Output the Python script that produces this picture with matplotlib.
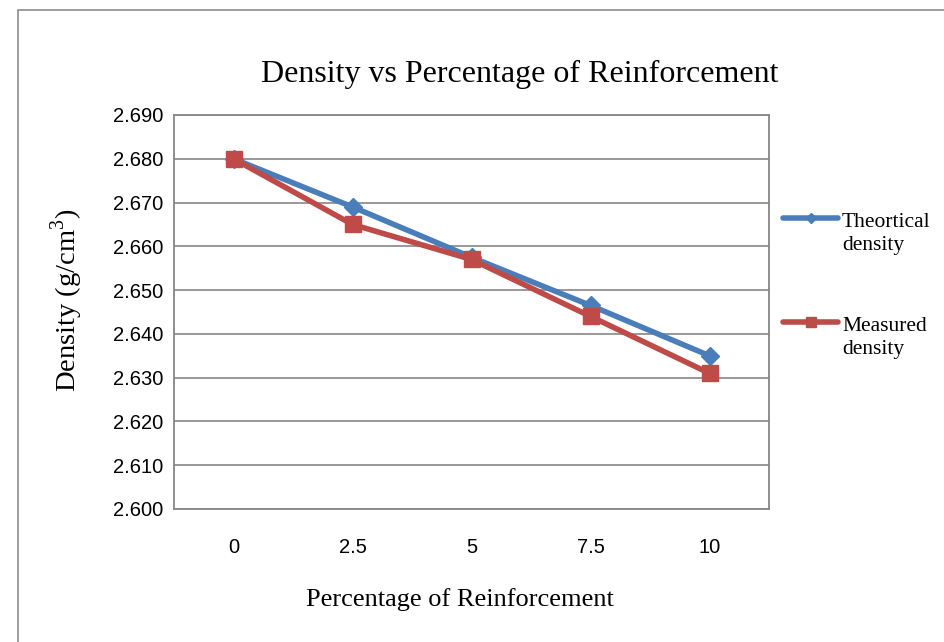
import matplotlib
matplotlib.use("Agg")
import matplotlib.pyplot as plt
from matplotlib.patches import Rectangle
from matplotlib.lines import Line2D

# data
categories = ["0", "2.5", "5", "7.5", "10"]
theoretical = [2.680, 2.669, 2.6575, 2.6465, 2.635]
measured = [2.680, 2.665, 2.657, 2.644, 2.631]
y_ticks = [2.600, 2.610, 2.620, 2.630, 2.640, 2.650, 2.660, 2.670, 2.680, 2.690]
series_names = ["Theortical\ndensity", "Measured\ndensity"]

BLUE = "#4A7EBB"
RED = "#BE4B48"
GRID = "#868686"
SERIF = "Liberation Serif"
SANS = "Liberation Sans"

plt.rcParams["mathtext.fontset"] = "custom"
plt.rcParams["mathtext.rm"] = SERIF

W, H = 944, 642
fig = plt.figure(figsize=(W / 100, H / 100), dpi=100)


def fx(px):
    return px / W


def fy(py):
    return 1 - py / H


# outer chart frame (clipped by the page on the right and bottom)
fig.patches.append(Rectangle((fx(18), -0.1), 1.2, fy(10) + 0.1,
                             transform=fig.transFigure, fill=False,
                             edgecolor="#8c8c8c", linewidth=1.2))

ax = fig.add_axes([fx(174), fy(509), (769 - 174) / W, (509 - 115) / H])

x = list(range(len(categories)))
ax.plot(x, theoretical, color=BLUE, linewidth=4, marker="D", markersize=9,
        zorder=3)
ax.plot(x, measured, color=RED, linewidth=4, marker="s", markersize=12,
        zorder=4)

ax.set_xlim(-0.5, len(categories) - 0.5)
ax.set_ylim(2.600, 2.690)
ax.set_yticks(y_ticks)
ax.set_yticklabels([f"{v:.3f}" for v in y_ticks], family=SANS, fontsize=14.5)
ax.set_xticks(x)
ax.set_xticklabels(categories, family=SANS, fontsize=14.5)
ax.tick_params(axis="y", length=0, pad=8)
ax.tick_params(axis="x", length=0, pad=21)
ax.grid(axis="y", color=GRID, linewidth=1.2)
ax.set_axisbelow(True)
for s in ax.spines.values():
    s.set_color(GRID)
    s.set_linewidth(1.3)

fig.text(fx(520), fy(82), "Density vs Percentage of Reinforcement",
         family=SERIF, fontsize=23, ha="center", va="baseline")
fig.text(fx(459.5), fy(600), "Percentage of Reinforcement",
         family=SERIF, fontsize=19, ha="center", va="center")
fig.text(fx(67), fy(300), "Density (g/cm$^3$)", family=SERIF, fontsize=20.5,
         rotation=90, ha="center", va="center")

# legend, drawn by hand to get Excel's layout (handle on first text line)
# (colour, marker, marker size, baseline of first text line in px)
legend_rows = [(BLUE, "D", 5.5, 226), (RED, "s", 7.5, 330)]
for (color, marker, msize, base), name in zip(legend_rows, series_names):
    ly = fy(base - 8)
    fig.add_artist(Line2D([fx(783), fx(810.5), fx(838)], [ly, ly, ly],
                          transform=fig.transFigure, color=color, linewidth=4,
                          marker=marker, markersize=msize, markevery=[1],
                          solid_capstyle="round"))
    # multiline baseline alignment uses the last line, which sits 24 px lower
    fig.text(fx(842), fy(base + 24), name, family=SERIF, fontsize=15.5,
             ha="left", va="baseline", linespacing=1.3,
             multialignment="left")

fig.savefig("out.png", dpi=100)
